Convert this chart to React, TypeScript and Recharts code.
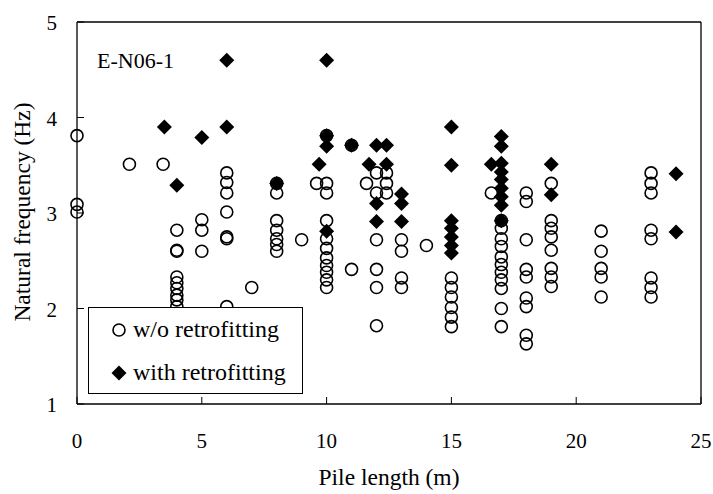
import { ScatterChart, Scatter, XAxis, YAxis, Legend, ReferenceLine } from 'recharts';

const FONT = '"Liberation Serif", "Times New Roman", serif';

// w/o retrofitting (open circles)
const pileLengthWo = [
  0, 0, 0, 2.1, 3.45,
  4, 4, 4, 4, 4, 4, 4, 4, 4,
  5, 5, 5,
  6, 6, 6, 6, 6, 6, 6,
  7, 8, 8, 8, 8, 8, 8, 8, 9, 9.6,
  10, 10, 10, 10, 10, 10, 10, 10, 10, 10, 10,
  11, 11, 11.6,
  12, 12, 12, 12, 12, 12, 12.4, 12.4, 12.4,
  13, 13, 13, 13, 14,
  15, 15, 15, 15, 15, 15, 16.6,
  17, 17, 17, 17, 17, 17, 17, 17, 17, 17, 17,
  18, 18, 18, 18, 18, 18, 18, 18, 18,
  19, 19, 19, 19, 19, 19, 19, 19,
  21, 21, 21, 21, 21,
  23, 23, 23, 23, 23, 23, 23, 23,
];
const freqWo = [
  3.81, 3.09, 3.01, 3.51, 3.51,
  2.82, 2.61, 2.6, 2.33, 2.27, 2.21, 2.14, 2.09, 2.02,
  2.93, 2.82, 2.6,
  3.42, 3.32, 3.21, 3.01, 2.75, 2.73, 2.02,
  2.22, 3.31, 3.21, 2.92, 2.82, 2.73, 2.67, 2.6, 2.72, 3.31,
  3.81, 3.31, 3.21, 2.92, 2.73, 2.63, 2.53, 2.45, 2.38, 2.3, 2.22,
  3.71, 2.41, 3.31,
  3.42, 3.21, 2.72, 2.41, 2.22, 1.82, 3.42, 3.31, 3.21,
  2.72, 2.6, 2.32, 2.22, 2.66,
  2.32, 2.22, 2.12, 2.01, 1.91, 1.81, 3.21,
  2.92, 2.84, 2.73, 2.65, 2.54, 2.46, 2.38, 2.3, 2.21, 2.0, 1.81,
  3.21, 3.12, 2.72, 2.41, 2.33, 2.11, 2.02, 1.72, 1.63,
  3.31, 2.92, 2.84, 2.75, 2.61, 2.42, 2.33, 2.23,
  2.81, 2.6, 2.42, 2.33, 2.12,
  3.42, 3.31, 3.21, 2.82, 2.73, 2.32, 2.22, 2.12,
];

// with retrofitting (filled diamonds)
const pileLengthWith = [
  3.5, 4, 5, 6, 6, 8, 9.7,
  10, 10, 10, 10, 11, 11.7,
  12, 12, 12, 12.4, 12.4,
  13, 13, 13,
  15, 15, 15, 15, 15, 15, 15, 16.6,
  17, 17, 17, 17, 17, 17, 17, 17, 17,
  19, 19, 24, 24,
];
const freqWith = [
  3.9, 3.29, 3.79, 4.6, 3.9, 3.31, 3.51,
  4.6, 3.81, 3.7, 2.81, 3.71, 3.51,
  3.71, 3.1, 2.91, 3.71, 3.51,
  3.2, 3.1, 2.91,
  3.9, 3.5, 2.92, 2.84, 2.75, 2.66, 2.58, 3.51,
  3.8, 3.7, 3.52, 3.43, 3.35, 3.26, 3.17, 3.08, 2.92,
  3.51, 3.19, 3.41, 2.8,
];

const xTicks = [0, 5, 10, 15, 20, 25];
const yTicks = [1, 2, 3, 4, 5];

const woData = pileLengthWo.map((x, i) => ({ x, y: freqWo[i] }));
const withData = pileLengthWith.map((x, i) => ({ x, y: freqWith[i] }));

const Y_GAP = 20;
const X_GAP = 44;

const OpenCircle = (p: any) => (
  <circle cx={p.cx} cy={p.cy} r={6} fill="none" stroke="#000" strokeWidth={1.6} />
);

const Diamond = (p: any) => (
  <path
    d={`M${p.cx},${p.cy - 7.5}L${p.cx + 7.5},${p.cy}L${p.cx},${p.cy + 7.5}L${p.cx - 7.5},${p.cy}Z`}
    fill="#000"
  />
);

const YTick = ({ x, y, payload }: any) => (
  <g>
    <line x1={x + Y_GAP} x2={x + Y_GAP + 7} y1={y} y2={y} stroke="#000" strokeWidth={1} />
    <text x={x} y={y + 8} textAnchor="end" fontFamily={FONT} fontSize={21} fill="#000">
      {payload.value}
    </text>
  </g>
);

const XTick = ({ x, y, payload }: any) => (
  <g>
    <line x1={x} x2={x} y1={y - X_GAP} y2={y - X_GAP - 7} stroke="#000" strokeWidth={1} />
    <text x={x} y={y} textAnchor="middle" fontFamily={FONT} fontSize={21} fill="#000">
      {payload.value}
    </text>
  </g>
);

const LegendBox = () => (
  <div style={{ width: 215, height: 87, border: '1px solid #000', background: '#fff', boxSizing: 'border-box' }}>
    <svg width={213} height={85}>
      <circle cx={30} cy={22} r={6} fill="none" stroke="#000" strokeWidth={1.6} />
      <text x={44} y={29} fontFamily={FONT} fontSize={24} fill="#000">w/o retrofitting</text>
      <path d="M30,57.5L37.5,65L30,72.5L22.5,65Z" fill="#000" />
      <text x={44} y={72} fontFamily={FONT} fontSize={24} fill="#000">with retrofitting</text>
    </svg>
  </div>
);

export default function App() {
  return (
    <div style={{ position: 'absolute', left: 0, top: 0, background: '#fff' }}>
      <ScatterChart width={713} height={494} margin={{ top: 22, right: 12, bottom: 30, left: 0 }}>
        <XAxis
          type="number"
          dataKey="x"
          domain={[0, 25]}
          ticks={xTicks}
          interval={0}
          height={60}
          tickSize={0}
          tickMargin={X_GAP}
          tick={<XTick />}
          axisLine={{ stroke: '#000', strokeWidth: 1.3 }}
          label={(props: any) => {
            const vb = props.viewBox;
            return (
              <text x={vb.x + vb.width / 2} y={vb.y + 81} textAnchor="middle" fontFamily={FONT} fontSize={23.5} fill="#000">
                Pile length (m)
              </text>
            );
          }}
        />
        <YAxis
          type="number"
          dataKey="y"
          domain={[1, 5]}
          ticks={yTicks}
          interval={0}
          width={77}
          tickSize={0}
          tickMargin={Y_GAP}
          tick={<YTick />}
          axisLine={{ stroke: '#000', strokeWidth: 1.3 }}
          label={(props: any) => {
            const vb = props.viewBox;
            const cx = 22;
            const cy = vb.y + vb.height / 2 - 1;
            return (
              <text x={cx} y={cy} transform={`rotate(-90, ${cx}, ${cy})`} textAnchor="middle" dominantBaseline="central" fontFamily={FONT} fontSize={23.5} fill="#000">
                Natural frequency (Hz)
              </text>
            );
          }}
        />
        <ReferenceLine y={5} stroke="#000" strokeWidth={1.3} />
        <ReferenceLine x={25} stroke="#000" strokeWidth={1.3} />
        <Scatter name="w/o retrofitting" data={woData} shape={<OpenCircle />} isAnimationActive={false} />
        <Scatter name="with retrofitting" data={withData} shape={<Diamond />} isAnimationActive={false} />
        <Legend
          layout="vertical"
          align="center"
          verticalAlign="middle"
          wrapperStyle={{ left: 88, top: 307, width: 215, height: 87 }}
          content={() => <LegendBox />}
        />
        <text x={97} y={68} fontFamily={FONT} fontSize={22} fill="#000">E-N06-1</text>
      </ScatterChart>
    </div>
  );
}
